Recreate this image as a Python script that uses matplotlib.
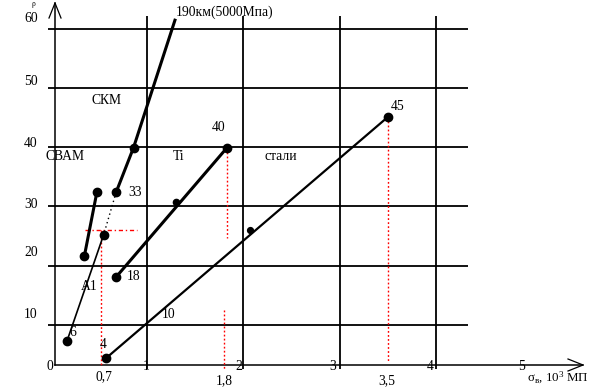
import matplotlib
matplotlib.use("Agg")
import matplotlib.pyplot as plt

plt.rcParams['font.family'] = ['Liberation Serif', 'DejaVu Serif']
plt.rcParams['mathtext.default'] = 'regular'

# ---------------- data (x: 10^3 MPa, y: specific modulus) ----------------
x_grid = [1, 2, 3, 4]
y_grid = [10, 20, 30, 40, 50, 60]
x_tick_labels = ["1", "2", "3", "4", "5"]
y_tick_labels = ["10", "20", "30", "40", "50", "60"]

skm_x = [0.68, 0.86, 1.29]          # СКМ (last point = end of line, no marker)
skm_y = [32.4, 39.9, 61.4]
svam_x = [0.35, 0.48]               # СВАМ
svam_y = [21.6, 32.4]
al_x = [0.17, 0.55]                 # А1
al_y = [7.3, 25.2]
ti_x = [0.68, 1.83]                 # Ti
ti_y = [18.1, 39.9]
ti_mid_x = [1.30]
ti_mid_y = [30.7]
steel_x = [0.575, 3.50]             # стали
steel_y = [4.4, 45.1]
steel_mid_x = [2.07]
steel_mid_y = [26.0]

# link between СКМ first point and А1 upper point
link_x = [skm_x[0], al_x[1]]
link_y = [skm_y[0], al_y[1]]

# red reference lines
ref_al_x = 0.52
ref_al_y = 26.0
ref_ti_x = 1.83
ref_18_x = 1.80
ref_steel_x = 3.50

# ---------------- layout helpers (pixel -> data) ----------------
W, H = 592, 389
def X(px):
    return (px - 50.6) / 96.4
def Y(py):
    return 10 + (325 - py) / 5.93

fig = plt.figure(figsize=(W / 100, H / 100), dpi=100)
ax = fig.add_axes([0, 0, 1, 1])
ax.set_xlim(X(0), X(W))
ax.set_ylim(Y(H), Y(0))
ax.axis('off')

k = 'black'
fs = 9.8

# grid
ax.hlines(y_grid, X(48), X(468), colors=k, lw=1.3, zorder=1)
ax.vlines(x_grid, Y(369), Y(16), colors=k, lw=1.3, zorder=1)

# axes with open arrow heads
ax.plot([X(55), X(583)], [Y(365), Y(365)], color=k, lw=1.1, zorder=2)
ax.plot([X(568), X(583), X(568)], [Y(359), Y(365), Y(371)], color=k, lw=0.9, zorder=2)
ax.plot([X(55), X(55)], [Y(365), Y(3)], color=k, lw=1.1, zorder=2)
ax.plot([X(49), X(55), X(61)], [Y(18), Y(3), Y(18)], color=k, lw=0.9, zorder=2)

# red dotted reference lines
dot = (0, (1.3, 1.6))
ax.plot([ref_al_x, ref_al_x], [ref_al_y, Y(365)], color='red', lw=1, ls=dot, zorder=2)
ax.plot([X(85), X(137)], [ref_al_y, ref_al_y], color='red', lw=1, ls=(0, (3, 2, 1, 2)), zorder=2)
ax.plot([ref_ti_x, ref_ti_x], [ti_y[1], Y(238)], color='red', lw=1, ls=dot, zorder=2)
ax.plot([ref_18_x, ref_18_x], [Y(310), Y(370)], color='red', lw=1, ls=dot, zorder=2)
ax.plot([ref_steel_x, ref_steel_x], [steel_y[1], Y(362)], color='red', lw=1, ls=dot, zorder=2)

# material lines
ms = 6
ax.plot(skm_x, skm_y, color=k, lw=2.2, zorder=3)
ax.plot(skm_x[:2], skm_y[:2], 'o', color=k, ms=ms, zorder=4)
ax.plot(svam_x, svam_y, color=k, lw=2.2, marker='o', ms=ms, zorder=3)
ax.plot(al_x, al_y, color=k, lw=1.2, marker='o', ms=ms, zorder=3)
ax.plot(link_x, link_y, color=k, lw=1, ls=(0, (1, 2.2)), zorder=3)
ax.plot(ti_x, ti_y, color=k, lw=2.2, marker='o', ms=ms, zorder=3)
ax.plot(ti_mid_x, ti_mid_y, 'o', color=k, ms=4.5, zorder=4)
ax.plot(steel_x, steel_y, color=k, lw=1.6, marker='o', ms=ms, zorder=3)
ax.plot(steel_mid_x, steel_mid_y, 'o', color=k, ms=4.2, zorder=4)

def t(px, py, s, ha='center', size=fs, **kw):
    ax.text(X(px), Y(py), s, ha=ha, va='center', fontsize=size, color=k, **kw)

# y tick labels
for lab, py in zip(y_tick_labels, [314, 252, 205, 143, 81, 18]):
    t(31, py, lab)
t(50, 366, "0")
# x tick labels
for lab, px in zip(x_tick_labels, [146, 239, 333, 430, 522]):
    t(px, 366, lab)
t(104, 377, "0,7")
t(224, 381, "1,8")
t(387, 381, "3,5")

# annotations
t(176, 12, "190км(5000Мпа)", ha='left')
t(107, 101, "СКМ")
t(65, 157, "СВАМ")
t(179, 157, "Ti")
t(281, 157, "стали")
t(135, 192, "33")
t(219, 127, "40")
t(398, 106, "45")
t(134, 277, "18")
t(89, 286, "А1")
t(73, 333, "6")
t(103, 345, "4")
t(169, 314, "10")
t(588, 378, "σ$_в$, 10$^3$ МП", ha='right', size=9.3)
ax.text(X(33), Y(0), "ρ", ha='center', va='top', fontsize=5.5, color=k)

fig.savefig("out.png", dpi=100)
